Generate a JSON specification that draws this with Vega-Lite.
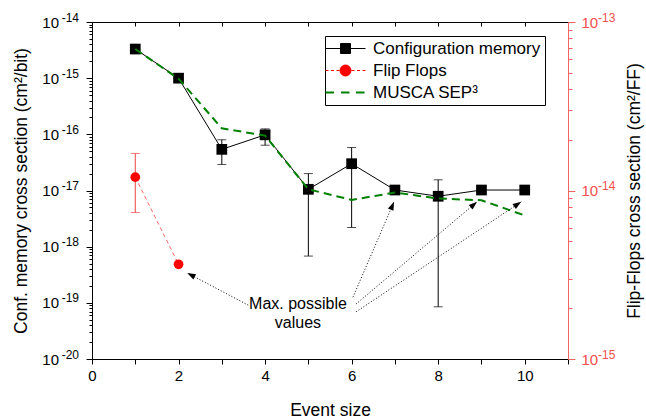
{
  "$schema": "https://vega.github.io/schema/vega-lite/v6.json",
  "width": 476,
  "height": 337,
  "autosize": "none",
  "padding": {"left": 92, "top": 22, "right": 78, "bottom": 60},
  "config": {
    "font": "Liberation Sans",
    "view": {"stroke": null},
    "axis": {
      "labelFont": "Liberation Sans", "titleFont": "Liberation Sans",
      "labelFontSize": 15, "titleFontSize": 17.5, "titleFontWeight": "normal",
      "grid": false, "domainColor": "black", "tickColor": "black",
      "labelColor": "black", "titleColor": "black", "labelFlush": false,
      "labelOverlap": false, "domainWidth": 1, "tickWidth": 1
    }
  },
  "datasets": {
    "cfg": [
      {"x": 1, "y": 3.3e-15},
      {"x": 2, "y": 1.0e-15},
      {"x": 3, "y": 5.4e-17, "lo": 2.9e-17, "hi": 8.0e-17},
      {"x": 4, "y": 9.8e-17, "lo": 6.4e-17, "hi": 1.25e-16},
      {"x": 5, "y": 1.05e-17, "lo": 6.8e-19, "hi": 2.0e-17},
      {"x": 6, "y": 3.0e-17, "lo": 2.2e-18, "hi": 5.8e-17},
      {"x": 7, "y": 1.02e-17},
      {"x": 8, "y": 7.9e-18, "lo": 8.5e-20, "hi": 1.55e-17},
      {"x": 9, "y": 1.02e-17},
      {"x": 10, "y": 1.02e-17}
    ],
    "musca": [
      {"x": 1, "y": 3.3e-15},
      {"x": 2, "y": 9.8e-16},
      {"x": 3, "y": 1.28e-16},
      {"x": 4, "y": 9.5e-17},
      {"x": 5, "y": 1.05e-17},
      {"x": 6, "y": 6.8e-18},
      {"x": 7, "y": 9.2e-18},
      {"x": 8, "y": 7.2e-18},
      {"x": 9, "y": 6.7e-18},
      {"x": 10, "y": 3.6e-18}
    ],
    "ff": [
      {"x": 1, "y": 1.2e-14, "lo": 7.4e-15, "hi": 1.66e-14},
      {"x": 2, "y": 3.65e-15}
    ],
    "arrows": [
      {"id": 1, "x": 3.61, "y": 9.1e-20, "tx": 2.2, "ty": 3.4e-19},
      {"id": 2, "x": 6.03, "y": 1.26e-19, "tx": 6.98, "ty": 6.3e-18},
      {"id": 3, "x": 6.10, "y": 9.5e-20, "tx": 8.90, "ty": 6.3e-18},
      {"id": 4, "x": 6.10, "y": 6.9e-20, "tx": 9.92, "ty": 6.3e-18}
    ],
    "ann": [
      {"x": 4.76, "y": 9.5e-20, "label": "Max. possible\nvalues"}
    ]
  },
  "layer": [
    {
      "layer": [
        {
          "layer": [
            {
              "data": {"name": "cfg"},
              "mark": {"type": "line", "color": "black", "strokeWidth": 1},
              "encoding": {
                "x": {
                  "field": "x", "type": "quantitative",
                  "scale": {"domain": [0, 11], "nice": false, "zero": false},
                  "axis": {
                    "title": "Event size",
                    "values": [0, 1, 2, 3, 4, 5, 6, 7, 8, 9, 10, 11],
                    "labelExpr": "datum.value % 2 == 0 && datum.value <= 10 ? datum.value : ''",
                    "tickSize": 5, "labelPadding": 4,
                    "titleY": 51, "titleBaseline": "middle"
                  }
                },
                "y": {
                  "field": "y", "type": "quantitative",
                  "scale": {"type": "log", "domain": [1e-20, 1e-14], "nice": false},
                  "axis": {
                    "orient": "left",
                    "title": "Conf. memory cross section (cm²/bit)",
                    "values": [1e-20, 1e-19, 1e-18, 1e-17, 1e-16, 1e-15, 1e-14],
                    "labelExpr": "'10'",
                    "tickSize": 6,
                    "labelPadding": 27.5,
                    "labelBaseline": "middle",
                    "titleX": -71, "titleY": 168.5, "titleAngle": 270,
                    "titleAlign": "center", "titleBaseline": "middle"
                  }
                },
                "color": {
                  "datum": "Configuration memory",
                  "scale": {
                    "domain": ["Configuration memory", "Flip Flops", "MUSCA SEP³"],
                    "range": ["black", "red", "#008000"]
                  },
                  "legend": {
                    "title": null,
                    "orient": "none", "legendX": 233, "legendY": 14,
                    "direction": "vertical",
                    "strokeColor": "black", "fillColor": "white", "padding": 4,
                    "labelFont": "Liberation Sans", "labelFontSize": 17, "labelColor": "black",
                    "symbolSize": 400, "symbolOffset": 8, "labelOffset": 19, "rowPadding": 4,
                    "labelLimit": 300,
                    "encode": {
                      "symbols": {
                        "update": {
                          "shape": {"signal": "datum.value === 'Configuration memory' ? 'M-2,0H-0.5M0.5,0H2M-0.5,-0.5H0.5V0.5H-0.5Z' : datum.value === 'Flip Flops' ? 'M-2,0H-1.7M-1.45,0H-1.15M-0.9,0H-0.6M0.6,0H0.9M1.15,0H1.45M1.7,0H2M-0.55,0A0.55,0.55 0 1,0 0.55,0A0.55,0.55 0 1,0 -0.55,0Z' : 'M-2,0H-1.15M-0.45,0H0.4M1.05,0H1.9'"},
                          "fill": {"signal": "datum.value === 'Configuration memory' ? 'black' : datum.value === 'Flip Flops' ? 'red' : 'transparent'"},
                          "stroke": {"signal": "datum.value === 'Configuration memory' ? 'black' : datum.value === 'Flip Flops' ? '#f58a8a' : '#008000'"},
                          "strokeWidth": {"signal": "datum.value === 'MUSCA SEP³' ? 2 : 1"},
                          "strokeDash": {"value": []},
                          "opacity": {"value": 1},
                          "fillOpacity": {"value": 1},
                          "strokeOpacity": {"value": 1}
                        }
                      }
                    }
                  }
                }
              }
            },
            {
              "data": {"name": "cfg"},
              "transform": [{"filter": "isValid(datum.lo)"}],
              "mark": {"type": "rule", "color": "black", "strokeWidth": 1},
              "encoding": {
                "x": {"field": "x", "type": "quantitative"},
                "y": {"field": "lo", "type": "quantitative"},
                "y2": {"field": "hi"}
              }
            },
            {
              "data": {"name": "cfg"},
              "transform": [{"filter": "isValid(datum.lo)"}],
              "mark": {"type": "tick", "orient": "horizontal", "color": "black", "size": 9, "thickness": 1},
              "encoding": {
                "x": {"field": "x", "type": "quantitative"},
                "y": {"field": "hi", "type": "quantitative"}
              }
            },
            {
              "data": {"name": "cfg"},
              "transform": [{"filter": "isValid(datum.lo)"}],
              "mark": {"type": "tick", "orient": "horizontal", "color": "black", "size": 9, "thickness": 1},
              "encoding": {
                "x": {"field": "x", "type": "quantitative"},
                "y": {"field": "lo", "type": "quantitative"}
              }
            },
            {
              "data": {"name": "cfg"},
              "mark": {"type": "point", "shape": "square", "filled": true, "color": "black", "size": 115, "opacity": 1},
              "encoding": {
                "x": {"field": "x", "type": "quantitative"},
                "y": {"field": "y", "type": "quantitative"}
              }
            },
            {
              "data": {"name": "musca"},
              "mark": {"type": "line", "color": "#008000", "strokeWidth": 2, "strokeDash": [8, 5]},
              "encoding": {
                "x": {"field": "x", "type": "quantitative"},
                "y": {"field": "y", "type": "quantitative"}
              }
            },
            {
              "data": {"name": "arrows"},
              "mark": {"type": "rule", "color": "black", "strokeWidth": 1, "strokeDash": [1, 2]},
              "encoding": {
                "x": {"field": "x", "type": "quantitative"},
                "y": {"field": "y", "type": "quantitative"},
                "x2": {"field": "tx"},
                "y2": {"field": "ty"}
              }
            },
            {
              "data": {"name": "arrows"},
              "transform": [{"filter": "datum.id == 1"}],
              "mark": {"type": "point", "shape": "M0,0L0.6,1.7L-0.6,1.7Z", "filled": true, "color": "black", "size": 100, "opacity": 1, "angle": 297.5},
              "encoding": {
                "x": {"field": "tx", "type": "quantitative"},
                "y": {"field": "ty", "type": "quantitative"}
              }
            },
            {
              "data": {"name": "arrows"},
              "transform": [{"filter": "datum.id == 2"}],
              "mark": {"type": "point", "shape": "M0,0L0.6,1.7L-0.6,1.7Z", "filled": true, "color": "black", "size": 100, "opacity": 1, "angle": 23.4},
              "encoding": {
                "x": {"field": "tx", "type": "quantitative"},
                "y": {"field": "ty", "type": "quantitative"}
              }
            },
            {
              "data": {"name": "arrows"},
              "transform": [{"filter": "datum.id == 3"}],
              "mark": {"type": "point", "shape": "M0,0L0.6,1.7L-0.6,1.7Z", "filled": true, "color": "black", "size": 100, "opacity": 1, "angle": 49.9},
              "encoding": {
                "x": {"field": "tx", "type": "quantitative"},
                "y": {"field": "ty", "type": "quantitative"}
              }
            },
            {
              "data": {"name": "arrows"},
              "transform": [{"filter": "datum.id == 4"}],
              "mark": {"type": "point", "shape": "M0,0L0.6,1.7L-0.6,1.7Z", "filled": true, "color": "black", "size": 100, "opacity": 1, "angle": 56.3},
              "encoding": {
                "x": {"field": "tx", "type": "quantitative"},
                "y": {"field": "ty", "type": "quantitative"}
              }
            },
            {
              "data": {"name": "ann"},
              "mark": {"type": "text", "font": "Liberation Sans", "fontSize": 16, "color": "black", "align": "center", "baseline": "middle", "lineBreak": "\n", "lineHeight": 19},
              "encoding": {
                "x": {"field": "x", "type": "quantitative"},
                "y": {"field": "y", "type": "quantitative"},
                "text": {"field": "label"}
              }
            }
          ]
        },
        {
          "data": {"name": "cfg"},
          "mark": {"type": "point", "opacity": 0},
          "encoding": {
            "x": {"field": "x", "type": "quantitative"},
            "y": {
              "field": "y", "type": "quantitative",
              "axis": {
                "orient": "left",
                "title": null, "domain": false,
                "values": [1e-20, 2e-20, 3e-20, 4e-20, 5e-20, 6e-20, 7e-20, 8e-20, 9e-20,
                           1e-19, 2e-19, 3e-19, 4e-19, 5e-19, 6e-19, 7e-19, 8e-19, 9e-19,
                           1e-18, 2e-18, 3e-18, 4e-18, 5e-18, 6e-18, 7e-18, 8e-18, 9e-18,
                           1e-17, 2e-17, 3e-17, 4e-17, 5e-17, 6e-17, 7e-17, 8e-17, 9e-17,
                           1e-16, 2e-16, 3e-16, 4e-16, 5e-16, 6e-16, 7e-16, 8e-16, 9e-16,
                           1e-15, 2e-15, 3e-15, 4e-15, 5e-15, 6e-15, 7e-15, 8e-15, 9e-15,
                           1e-14],
                "labelExpr": "abs(log(datum.value)/LN10 - round(log(datum.value)/LN10)) < 1e-6 ? '-' + round(-log(datum.value)/LN10) : ''",
                "tickSize": 3, "labelFontSize": 12, "labelPadding": 10.5,
                "labelAlign": "right", "labelBaseline": "middle", "labelOffset": -5
              }
            }
          }
        }
      ],
      "resolve": {"axis": {"y": "independent"}}
    },
    {
      "layer": [
        {
          "layer": [
            {
              "data": {"name": "ff"},
              "mark": {"type": "line", "color": "#f26b6b", "strokeWidth": 1, "strokeDash": [4, 3]},
              "encoding": {
                "x": {
                  "field": "x", "type": "quantitative",
                  "axis": {
                    "orient": "top", "title": null, "labels": false,
                    "values": [0, 1, 2, 3, 4, 5, 6, 7, 8, 9, 10, 11],
                    "tickSize": -4
                  }
                },
                "y": {
                  "field": "y", "type": "quantitative",
                  "scale": {"type": "log", "domain": [1e-15, 1e-13], "nice": false},
                  "axis": {
                    "orient": "right",
                    "title": "Flip-Flops cross section (cm²/FF)",
                    "values": [1e-15, 1e-14, 1e-13],
                    "labelExpr": "'10'",
                    "tickSize": 7,
                    "domainColor": "#f06464", "tickColor": "#f06464", "labelColor": "#f24e4e",
                    "labelPadding": 6, "labelBaseline": "middle",
                    "titleX": 66, "titleY": 168.5, "titleAngle": 270,
                    "titleAlign": "center", "titleBaseline": "middle"
                  }
                }
              }
            },
            {
              "data": {"name": "ff"},
              "transform": [{"filter": "isValid(datum.lo)"}],
              "mark": {"type": "rule", "color": "#f04040", "strokeWidth": 1},
              "encoding": {
                "x": {"field": "x", "type": "quantitative"},
                "y": {"field": "lo", "type": "quantitative"},
                "y2": {"field": "hi"}
              }
            },
            {
              "data": {"name": "ff"},
              "transform": [{"filter": "isValid(datum.lo)"}],
              "mark": {"type": "tick", "orient": "horizontal", "color": "#f04040", "size": 9, "thickness": 1},
              "encoding": {
                "x": {"field": "x", "type": "quantitative"},
                "y": {"field": "hi", "type": "quantitative"}
              }
            },
            {
              "data": {"name": "ff"},
              "transform": [{"filter": "isValid(datum.lo)"}],
              "mark": {"type": "tick", "orient": "horizontal", "color": "#f04040", "size": 9, "thickness": 1},
              "encoding": {
                "x": {"field": "x", "type": "quantitative"},
                "y": {"field": "lo", "type": "quantitative"}
              }
            },
            {
              "data": {"name": "ff"},
              "mark": {"type": "point", "shape": "circle", "filled": true, "color": "red", "size": 95, "opacity": 1},
              "encoding": {
                "x": {"field": "x", "type": "quantitative"},
                "y": {"field": "y", "type": "quantitative"}
              }
            }
          ]
        },
        {
          "data": {"name": "ff"},
          "mark": {"type": "point", "opacity": 0},
          "encoding": {
            "x": {"field": "x", "type": "quantitative"},
            "y": {
              "field": "y", "type": "quantitative",
              "axis": {
                "orient": "right", "title": null, "domain": false,
                "values": [1e-15, 2e-15, 3e-15, 4e-15, 5e-15, 6e-15, 7e-15, 8e-15, 9e-15,
                           1e-14, 2e-14, 3e-14, 4e-14, 5e-14, 6e-14, 7e-14, 8e-14, 9e-14,
                           1e-13],
                "labelExpr": "abs(log(datum.value)/LN10 - round(log(datum.value)/LN10)) < 1e-6 ? '-' + round(-log(datum.value)/LN10) : ''",
                "tickSize": 4, "tickColor": "#f06464", "labelColor": "#f24e4e",
                "labelFontSize": 12, "labelPadding": 25.5,
                "labelAlign": "left", "labelBaseline": "middle", "labelOffset": -5
              }
            }
          }
        }
      ],
      "resolve": {"axis": {"y": "independent"}}
    }
  ],
  "resolve": {"scale": {"y": "independent"}, "axis": {"x": "independent", "y": "independent"}}
}
